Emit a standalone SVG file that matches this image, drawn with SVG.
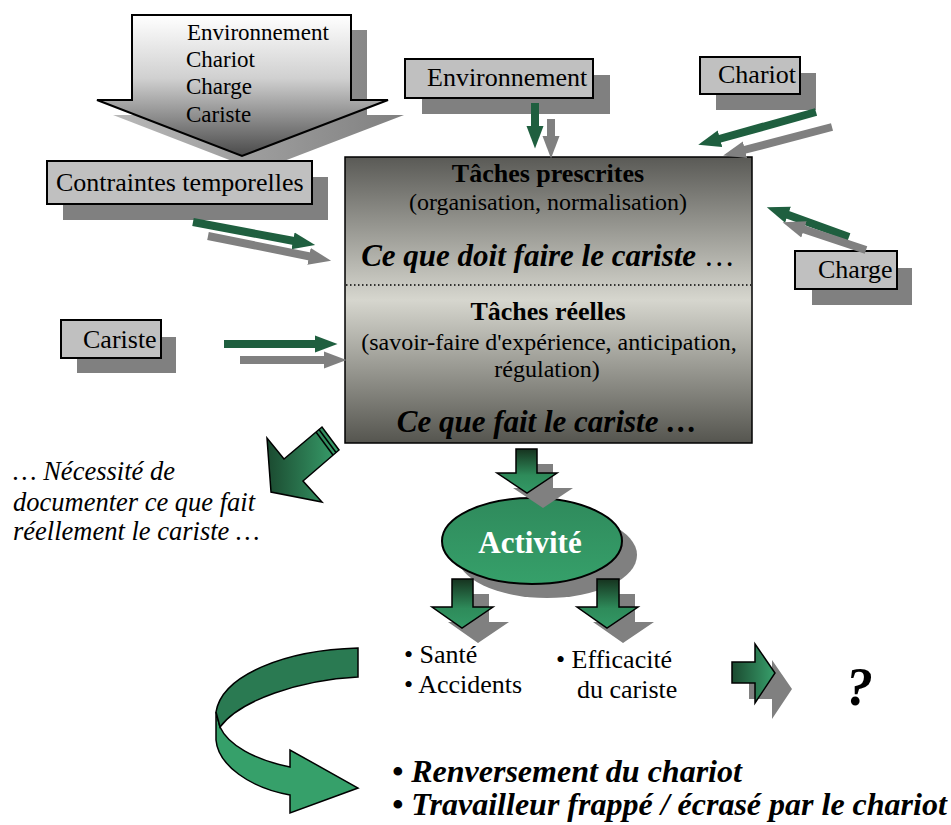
<svg xmlns="http://www.w3.org/2000/svg" width="951" height="825" viewBox="0 0 951 825">
<style>
text{font-family:"Liberation Serif","Times New Roman",serif;fill:#000}
.box{fill:#c0c0c0;stroke:#000;stroke-width:2}
.shadow{fill:#808080}
.lbl{font-size:26px}
.reg{font-size:24px}
.b{font-weight:bold}
.bi{font-weight:bold;font-style:italic}
.it{font-style:italic}
.gline{stroke:#1f5f3f;stroke-width:8;fill:none}
.kline{stroke:#808080;stroke-width:8;fill:none}
.blk{stroke:#000;stroke-width:1.5;stroke-linejoin:miter}
</style>
<defs>
<linearGradient id="gBig" x1="0" y1="0" x2="0" y2="1">
<stop offset="0" stop-color="#ffffff"/>
<stop offset="0.45" stop-color="#d0d0d0"/>
<stop offset="1" stop-color="#4a4a4a"/>
</linearGradient>
<linearGradient id="gBigSh" x1="0" y1="0" x2="1" y2="0">
<stop offset="0" stop-color="#b8b8b8"/>
<stop offset="1" stop-color="#808080"/>
</linearGradient>
<linearGradient id="gMain" x1="0" y1="0" x2="0" y2="1">
<stop offset="0" stop-color="#5a5a56"/>
<stop offset="0.5" stop-color="#d6d6ce"/>
<stop offset="1" stop-color="#55554f"/>
</linearGradient>
<linearGradient id="gDown" x1="0" y1="0" x2="0" y2="1">
<stop offset="0" stop-color="#16331f"/>
<stop offset="0.6" stop-color="#2e8b5a"/>
<stop offset="1" stop-color="#339966"/>
</linearGradient>
<linearGradient id="gSide" x1="0" y1="0" x2="1" y2="0">
<stop offset="0" stop-color="#1b4a30"/>
<stop offset="1" stop-color="#38a06c"/>
</linearGradient>
<linearGradient id="gEll" x1="0" y1="0" x2="0" y2="1">
<stop offset="0" stop-color="#2f8a5c"/>
<stop offset="1" stop-color="#36a06a"/>
</linearGradient>
<marker id="hG" markerUnits="userSpaceOnUse" markerWidth="23" markerHeight="18" viewBox="0 0 23 18" refX="1" refY="9" orient="auto">
<path d="M0,0.5 L22.5,9 L0,17.5 Z" fill="#1f5f3f"/>
</marker>
<marker id="hK" markerUnits="userSpaceOnUse" markerWidth="23" markerHeight="18" viewBox="0 0 23 18" refX="1" refY="9" orient="auto">
<path d="M0,0.5 L22.5,9 L0,17.5 Z" fill="#808080"/>
</marker>
</defs>
<rect width="951" height="825" fill="#ffffff"/>

<g id="facteurs">
<path d="M148,30 H367 V115 H404 L258,171 L113,115 H148 Z" fill="url(#gBigSh)"/>
<path d="M132,15 H351 V100 H388 L242,156 L97,100 H132 Z" fill="url(#gBig)" stroke="#000" stroke-width="2"/>
<text class="lbl" style="font-size:23px" x="187" y="40">Environnement</text>
<text class="lbl" style="font-size:23px" x="186" y="67">Chariot</text>
<text class="lbl" style="font-size:23px" x="186" y="94">Charge</text>
<text class="lbl" style="font-size:23px" x="186" y="122">Cariste</text>
</g>

<g id="contraintes">
<rect class="shadow" x="63" y="177" width="265" height="43"/>
<rect class="box" x="47" y="161" width="265" height="43"/>
<text class="lbl" x="56" y="191">Contraintes temporelles</text>
</g>

<g id="environnement">
<rect class="shadow" x="422" y="75" width="188" height="39"/>
<rect class="box" x="405" y="59" width="188" height="39"/>
<text class="lbl" x="427" y="86">Environnement</text>
</g>

<g id="chariot">
<rect class="shadow" x="716" y="73" width="100" height="37"/>
<rect class="box" x="700" y="57" width="100" height="37"/>
<text class="lbl" x="718" y="83">Chariot</text>
</g>

<g id="charge">
<rect class="shadow" x="812" y="268" width="100" height="37"/>
<rect class="box" x="795" y="251" width="102" height="38"/>
<text class="lbl" x="818" y="278">Charge</text>
</g>

<g id="cariste">
<rect class="shadow" x="77" y="337" width="99" height="36"/>
<rect class="box" x="61" y="320" width="100" height="38"/>
<text class="lbl" x="83" y="348">Cariste</text>
</g>

<g id="taches">
<rect x="345" y="157" width="407" height="286" fill="url(#gMain)" stroke="#000" stroke-width="1.5"/>
<line x1="346" y1="285" x2="751" y2="285" stroke="#000" stroke-width="1.5" stroke-dasharray="1.5 2.5"/>
<text class="b" style="font-size:26px" x="548" y="182" text-anchor="middle">Tâches prescrites</text>
<text class="reg" x="548" y="210" text-anchor="middle">(organisation, normalisation)</text>
<text class="bi" style="font-size:31px" x="548" y="266" text-anchor="middle">Ce que doit faire le cariste<tspan style="font-weight:normal;font-style:normal"> …</tspan></text>
<text class="b" style="font-size:26px" x="548" y="320" text-anchor="middle">Tâches réelles</text>
<text class="reg" x="549" y="350" text-anchor="middle">(savoir-faire d'expérience, anticipation,</text>
<text class="reg" x="547" y="377" text-anchor="middle">régulation)</text>
<text class="bi" style="font-size:31px" x="547" y="432" text-anchor="middle">Ce que fait le cariste …</text>
</g>

<g id="activite">
<ellipse cx="547" cy="555" rx="90" ry="43" fill="#808080"/>
<ellipse cx="532" cy="541" rx="90" ry="43" fill="url(#gEll)" stroke="#000" stroke-width="2"/>
<text class="b" style="font-size:31px;fill:#ffffff" x="530" y="553" text-anchor="middle">Activité</text>
</g>

<g id="note">
<text class="it" style="font-size:26.5px" x="13" y="480">… Nécessité de</text>
<text class="it" style="font-size:26.5px" x="13" y="511">documenter ce que fait</text>
<text class="it" style="font-size:26.5px" x="13" y="540">réellement le cariste …</text>
</g>

<g id="effets">
<text class="lbl" x="404" y="663">• Santé</text>
<text class="lbl" x="404" y="693">• Accidents</text>
<text class="lbl" x="556" y="668">• Efficacité</text>
<text class="lbl" x="577" y="698">du cariste</text>
</g>

<g id="inconnu">
<text class="bi" style="font-size:54px" x="846" y="705">?</text>
</g>

<g id="risques">
<text class="bi" style="font-size:32px" x="392" y="782">• Renversement du chariot</text>
<text class="bi" style="font-size:32px" x="392" y="815">• Travailleur frappé / écrasé par le chariot</text>
</g>

<g id="connecteurs">
<line class="gline" x1="535" y1="103" x2="535" y2="127" marker-end="url(#hG)"/>
<line class="kline" x1="551" y1="119" x2="551" y2="137" marker-end="url(#hK)"/>
<line class="gline" x1="816" y1="112" x2="719" y2="139" marker-end="url(#hG)"/>
<line class="kline" x1="832" y1="127" x2="744" y2="150" marker-end="url(#hK)"/>
<line class="gline" x1="849" y1="237" x2="787" y2="214.5" marker-end="url(#hG)"/>
<line class="kline" x1="866" y1="250" x2="803" y2="229" marker-end="url(#hK)"/>
<line class="gline" x1="193" y1="222" x2="294" y2="241" marker-end="url(#hG)"/>
<line class="kline" x1="208" y1="236" x2="310" y2="256.5" marker-end="url(#hK)"/>
<line class="gline" x1="224" y1="344" x2="316" y2="344" marker-end="url(#hG)"/>
<line class="kline" x1="240" y1="360" x2="325" y2="360" marker-end="url(#hK)"/>

<path d="M532,464 H553 V488 H573 L543,508 L513,488 H532 Z" fill="#808080"/>
<path class="blk" d="M516,449 H537 V473 H557 L527,493 L497,473 H516 Z" fill="url(#gDown)"/>

<path d="M468,594 H489 V622 H509 L478,643 L448,622 H468 Z" fill="#808080"/>
<path class="blk" d="M452,579 H473 V607 H493 L462,628 L432,607 H452 Z" fill="url(#gDown)"/>
<path d="M613,594 H635 V622 H654 L623,643 L593,622 H613 Z" fill="#808080"/>
<path class="blk" d="M597,579 H619 V607 H638 L607,628 L577,607 H597 Z" fill="url(#gDown)"/>

<path d="M749,678 H772 V660 L792,689 L772,719 V699 H749 Z" fill="#808080"/>
<path class="blk" d="M732,662 H755 V644 L775,673 L755,703 V683 H732 Z" fill="url(#gSide)"/>

<path class="blk" d="M271,492 L267,438 L284,459 L322,427 L339,450 L303,481 L322,502 Z" fill="url(#gSide)"/>
<line x1="316" y1="432" x2="333" y2="455" stroke="#000" stroke-width="1.5"/>
<line x1="319" y1="429.5" x2="336" y2="452.5" stroke="#000" stroke-width="1.5"/>

<path class="blk" d="M216,712 L216,740 C218,765 250,788 290,795 L290,813 L358,788 L290,750 L290,767 C255,760 228,745 220,727 Z" fill="#36a06a"/>
<path class="blk" d="M358,648 C285,650 222,675 216,712 L220,727 C240,700 300,680 358,677 Z" fill="#2a7a52"/>
</g>
</svg>
